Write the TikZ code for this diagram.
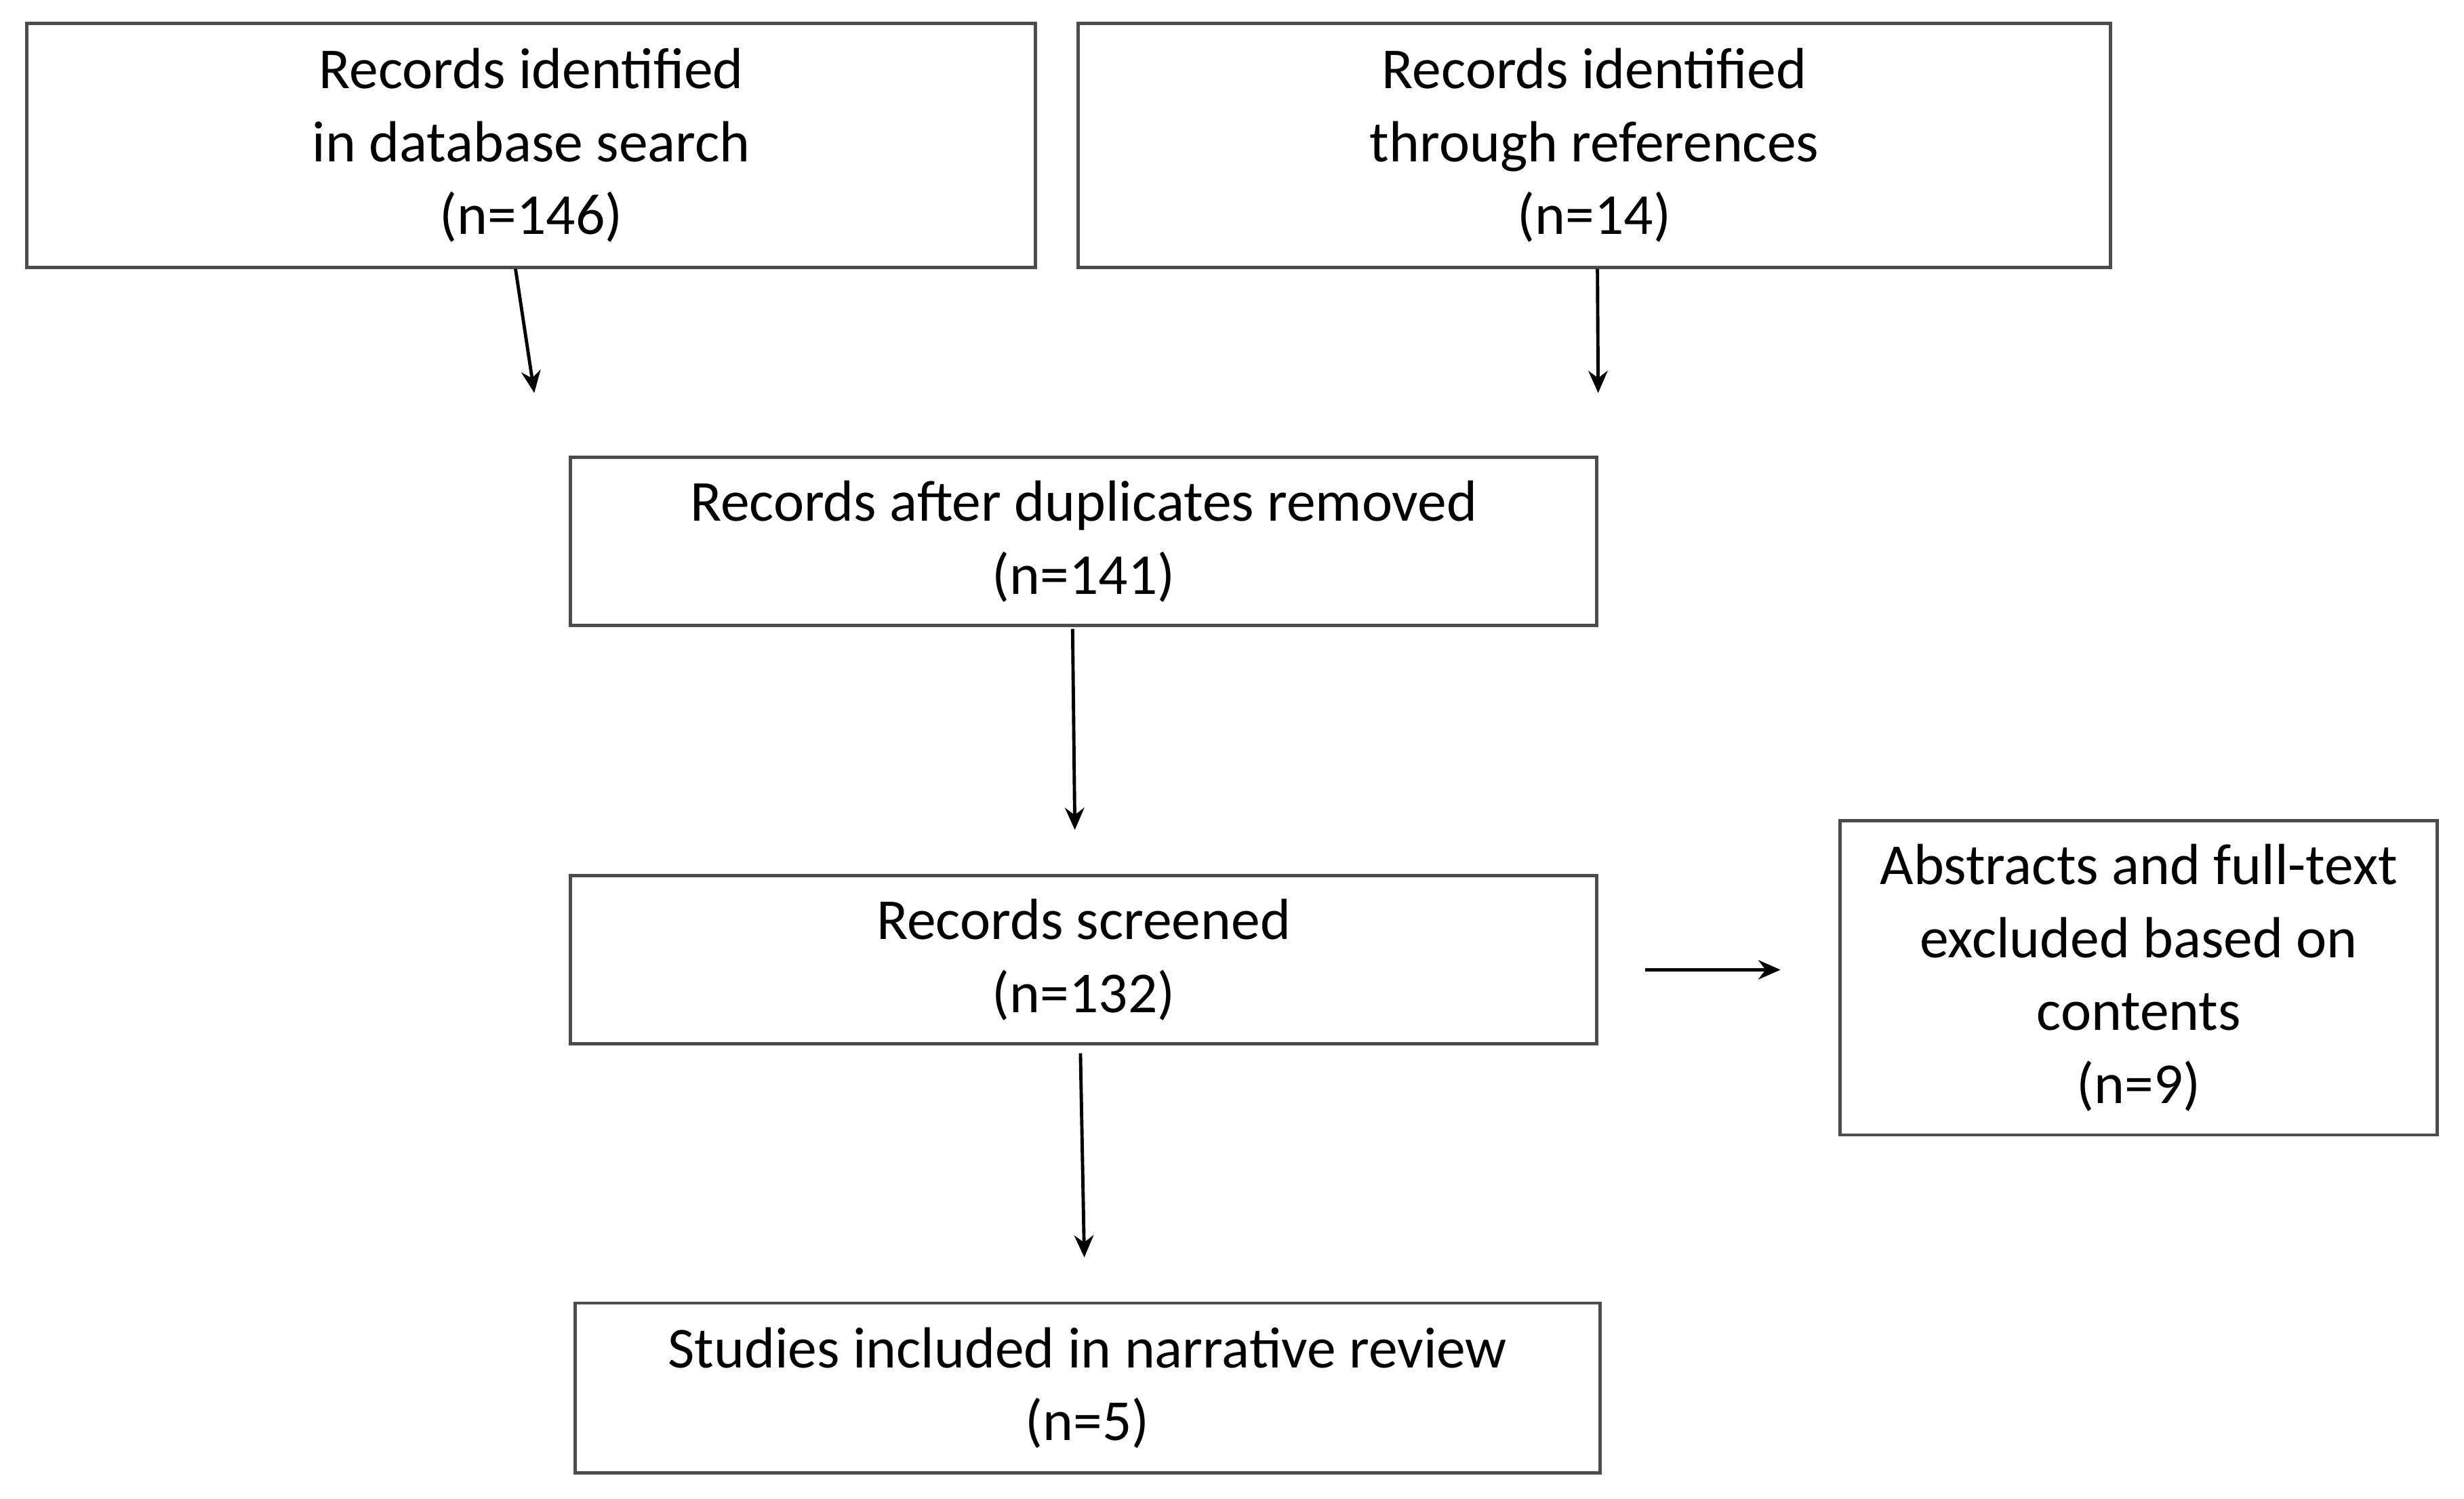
\documentclass[tikz,border=0pt]{standalone}
\usepackage{fontspec}
\setmainfont{Carlito}
\usetikzlibrary{positioning,arrows.meta}

\begin{document}
\begin{tikzpicture}[
    box/.style={
        draw=black!70,
        line width=0.6pt,
        align=center,
        font=\fontsize{10.5}{13.2}\selectfont,
        inner sep=0pt,
        anchor=north west
        },
    arr/.style={-{Stealth[length=4pt,width=3.5pt]}, line width=0.6pt}
]
\useasboundingbox (0,0) rectangle (15.68,-9.533);

% boxes
\node[box, minimum width=6.42cm, minimum height=1.55cm] (db) at (0.16,-0.14) {Records identified\\in database search\\(n=146)};
\node[box, minimum width=6.57cm, minimum height=1.55cm] (refs) at (6.85,-0.14) {Records identified\\through references\\(n=14)};
\node[box, minimum width=6.53cm, minimum height=1.07cm] (dup) at (3.62,-2.90) {Records after duplicates removed\\(n=141)};
\node[box, minimum width=6.53cm, minimum height=1.07cm] (scr) at (3.62,-5.56) {Records screened\\(n=132)};
\node[box, minimum width=3.80cm, minimum height=2.00cm] (excl) at (11.70,-5.21) {Abstracts and full-text\\excluded based on\\contents\\(n=9)};
\node[box, minimum width=6.52cm, minimum height=1.08cm] (incl) at (3.65,-8.28) {Studies included in narrative review\\(n=5)};

% free arrow ends
\coordinate (dbEnd) at (3.40,-2.50);
\coordinate (refsEnd) at (10.17,-2.50);
\coordinate (dupEnd) at (6.84,-5.28);
\coordinate (scrEnd) at (6.90,-8.00);
\coordinate (exclStart) at (10.47,-6.17);
\coordinate (exclEnd) at (11.33,-6.17);

% arrows
\draw[arr] ([xshift=-0.10cm]db.south) -- (dbEnd);
\draw[arr] ([xshift=0.02cm]refs.south) -- (refsEnd);
\draw[arr] ([xshift=-0.07cm,yshift=-0.01cm]dup.south) -- (dupEnd);
\draw[arr] ([xshift=-0.02cm,yshift=-0.05cm]scr.south) -- (scrEnd);
\draw[arr] (exclStart) -- (exclEnd);

\end{tikzpicture}
\end{document}
